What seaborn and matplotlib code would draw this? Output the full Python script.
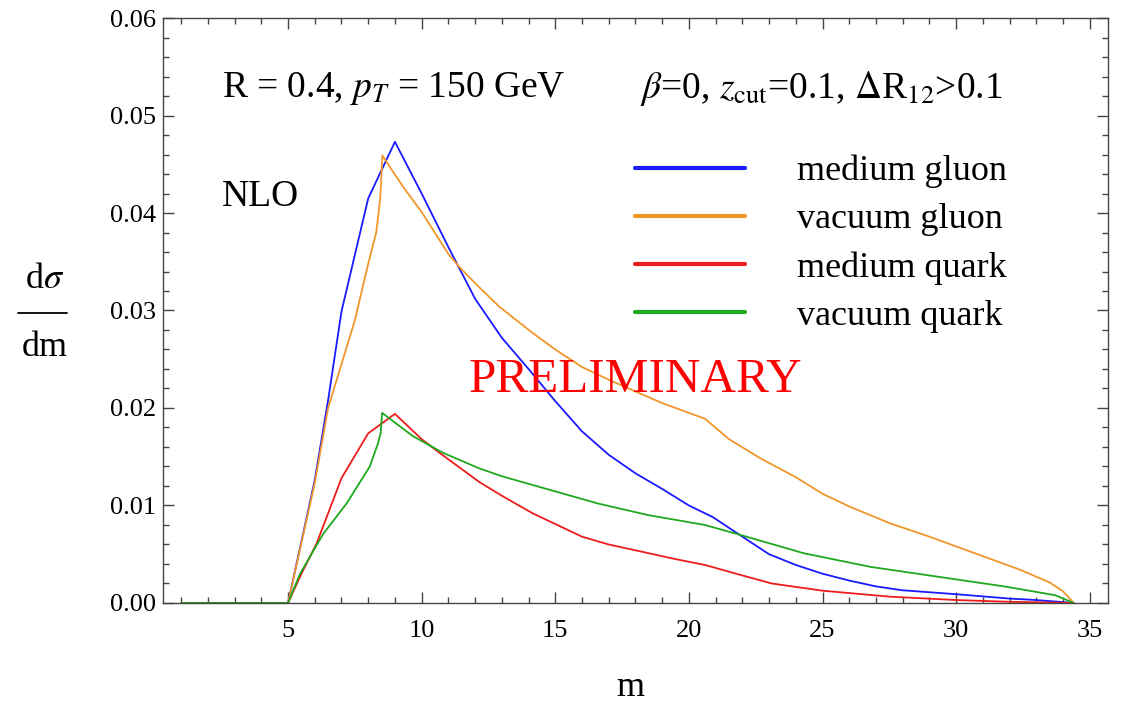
import numpy as np
import pandas as pd
import seaborn as sns
import matplotlib.pyplot as plt
from matplotlib.lines import Line2D
from matplotlib.ticker import MultipleLocator

# jet mass distributions
mg_m = [1, 5, 6, 6.5, 7, 8, 9.0, 10, 11, 12, 13, 14, 15, 16, 17, 18, 19, 20, 20.9, 22, 23, 24, 25, 26, 27, 28, 30, 32,
        33, 34.4]
mg_y = [0, 0, 0.0126, 0.0208, 0.0299, 0.0415, 0.0473, 0.0420, 0.0365, 0.0312, 0.0272, 0.0240, 0.0207, 0.0176, 0.0152,
        0.0133, 0.0117, 0.0100, 0.0088, 0.0068, 0.0050, 0.0039, 0.0030, 0.0023, 0.0017, 0.0013, 0.0009, 0.00045, 0.0003,
        0]

vg_m = [1, 5, 6, 6.5, 7, 7.5, 8, 8.3, 8.45, 8.53, 9.3, 10, 11, 11.4, 12, 12.9, 14.15, 15, 16, 17, 18, 19, 20, 20.6, 21.5,
        22.7, 24, 25, 26, 27.5, 29, 30, 31, 32.4, 33.5, 34, 34.4]
vg_y = [0, 0, 0.0123, 0.0200, 0.0245, 0.0290, 0.0348, 0.0380, 0.0415, 0.0459, 0.0427, 0.0401, 0.0358, 0.0345, 0.0328,
        0.0304, 0.0277, 0.0260, 0.0242, 0.0229, 0.0217, 0.0205, 0.0195, 0.0189, 0.0168, 0.0148, 0.0129, 0.0112, 0.0099,
        0.0082, 0.0068, 0.0058, 0.0048, 0.0034, 0.0021, 0.0012, 0]

mq_m = [1, 5, 5.5, 6.07, 7, 8, 9.0, 10, 10.67, 12.16, 13, 14.15, 15, 16, 17, 18.5, 19.5, 20.6, 21.9, 23.1, 25, 27.5, 30,
        32, 34.4]
mq_y = [0, 0, 0.0030, 0.0061, 0.0128, 0.0174, 0.0194, 0.0168, 0.0154, 0.0124, 0.0110, 0.0092, 0.0081, 0.0068, 0.0060,
        0.0051, 0.0045, 0.0039, 0.0029, 0.0020, 0.00126, 0.00065, 0.0003, 0.00012, 0]

vq_m = [1, 5, 5.45, 6, 6.32, 7.19, 8.06, 8.37, 8.47, 8.52, 9, 9.68, 10.8, 12.16, 13, 14.8, 16.6, 18.5, 20.6, 21.9, 24.3,
        26.8, 29.3, 31.8, 33.7, 34.4]
vq_y = [0, 0, 0.0030, 0.0056, 0.0071, 0.0102, 0.0140, 0.0164, 0.0175, 0.0195, 0.0185, 0.0171, 0.0154, 0.0138, 0.0130,
        0.0116, 0.0102, 0.0090, 0.0080, 0.0070, 0.0051, 0.0037, 0.0027, 0.0017, 0.0008, 0]

labels = ["medium gluon", "vacuum gluon", "medium quark", "vacuum quark"]
colors = ["#1a1aff", "#f0962a", "#ee1c1c", "#1fa81f"]
###########################################################################

df = pd.concat([
    pd.DataFrame({"m": mg_m, "y": mg_y, "curve": labels[0]}),
    pd.DataFrame({"m": vg_m, "y": vg_y, "curve": labels[1]}),
    pd.DataFrame({"m": mq_m, "y": mq_y, "curve": labels[2]}),
    pd.DataFrame({"m": vq_m, "y": vq_y, "curve": labels[3]}),
])

sns.set_style("ticks")
plt.rcParams['font.family'] = ['Liberation Serif', 'DejaVu Serif']
plt.rcParams['mathtext.fontset'] = 'stix'
plt.rcParams['text.color'] = 'black'
plt.rcParams['xtick.labelcolor'] = 'black'
plt.rcParams['ytick.labelcolor'] = 'black'

fig = plt.figure(figsize=(11.27, 7.04), dpi=100)
ax = fig.add_axes([0.1446, 0.1435, 0.8385, 0.8309])

sns.lineplot(data=df, x="m", y="y", hue="curve", palette=dict(zip(labels, colors)),
             estimator=None, sort=False, linewidth=1.3, ax=ax)

ax.set_xlim(0.32, 35.68)
ax.set_ylim(0, 0.06)
ax.xaxis.set_major_locator(MultipleLocator(5))
ax.xaxis.set_minor_locator(MultipleLocator(1))
ax.yaxis.set_major_locator(MultipleLocator(0.01))
ax.yaxis.set_minor_locator(MultipleLocator(0.002))
ax.yaxis.set_major_formatter(plt.FuncFormatter(lambda v, p: f"{v:.2f}"))
ax.tick_params(which="both", direction="in", top=True, right=True, color="#444444", width=1.0,
               labelcolor="black")
ax.tick_params(which="major", length=8)
ax.tick_params(which="minor", length=4.5)
ax.tick_params(axis="x", labelsize=19, pad=12)
ax.tick_params(axis="y", labelsize=19, pad=5)
for s in ax.spines.values():
    s.set_color("#444444")
    s.set_linewidth(1.0)
ax.set_xlabel("")
ax.set_ylabel("")

handles, labs = ax.get_legend_handles_labels()
leg = ax.legend(handles, labs, loc="upper left", bbox_to_anchor=(0.4995, 0.766), frameon=False,
                fontsize=26, handlelength=3.05, handletextpad=1.44, labelspacing=0.41,
                borderpad=0, borderaxespad=0, labelcolor="black")
for h in leg.get_lines():
    h.set_linewidth(3)

ax.text(0.0624, 0.880, r"R = 0.4, $p_T$ = 150 GeV", transform=ax.transAxes, fontsize=27, va="center")
ax.text(0.505, 0.880, r"$\beta$=0, $z_{\rm cut}$=0.1, $\Delta$R$_{12}$>0.1", transform=ax.transAxes,
        fontsize=27, va="center")
ax.text(0.0624, 0.694, "NLO", transform=ax.transAxes, fontsize=27, va="center")
ax.text(0.4995, 0.381, "PRELIMINARY", transform=ax.transAxes, fontsize=35.5, color="red",
        ha="center", va="center")

# y label drawn as a stacked fraction
fig.text(45 / 1127, 1 - 280 / 704, r"d$\sigma$", fontsize=26, ha="center", va="center")
fig.text(45 / 1127, 1 - 347 / 704, "dm", fontsize=26, ha="center", va="center")
fig.add_artist(Line2D([18 / 1127, 67 / 1127], [1 - 313 / 704, 1 - 313 / 704], color="black", linewidth=1.3,
                      transform=fig.transFigure))
fig.text(630 / 1127, 1 - 688 / 704, "m", fontsize=26, ha="center", va="center")

plt.savefig("out.png", dpi=100)
plt.close()
